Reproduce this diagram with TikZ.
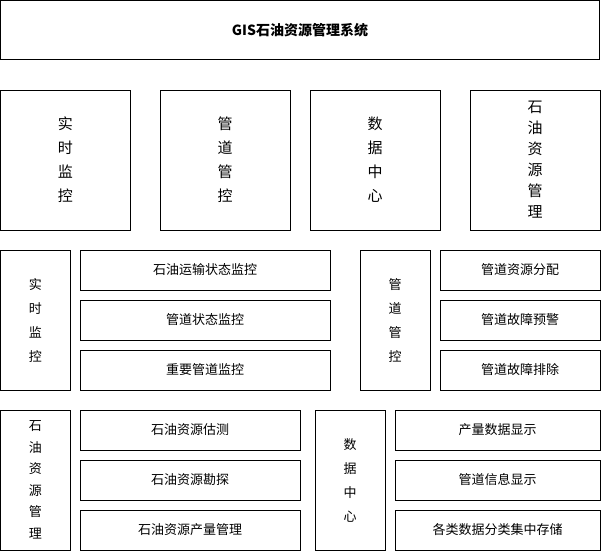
\documentclass[tikz,border=0pt]{standalone}
\usepackage{fontspec}
\setmainfont{Noto Sans CJK SC}
\begin{document}
\begin{tikzpicture}[x=1pt,y=-1pt,
  bx/.style={draw=black,line width=0.8pt,fill=white,inner sep=0pt,font=\fontsize{13}{24}\selectfont,align=center},
  big/.style={font=\fontsize{15}{24}\selectfont},
  bigs/.style={font=\fontsize{15}{21}\selectfont},
  smls/.style={font=\fontsize{13}{21.5}\selectfont}]
\useasboundingbox (0,0) rectangle (601,551);
\newcommand\bxx[7][]{\node[bx,#1,minimum width={#4-#2},minimum height={#5-#3}] (#6) at ({(#2+#4)/2},{(#3+#5)/2}) {#7};}
\node[bx,minimum width=599,minimum height=59,font=\fontsize{14}{16}\selectfont\bfseries] (title) at (300,30) {GIS石油资源管理系统};
\bxx[big]{0.5}{90}{130}{230}{a1}{实\\时\\监\\控}
\bxx[big]{160}{90}{290}{230}{a2}{管\\道\\管\\控}
\bxx[big]{310}{90}{440}{230}{a3}{数\\据\\中\\心}
\bxx[bigs]{470}{90}{600}{230}{a4}{石\\油\\资\\源\\管\\理}
\bxx{0.5}{250}{70}{390}{b1}{实\\时\\监\\控}
\bxx{80}{250}{330}{290}{b11}{石油运输状态监控}
\bxx{80}{300}{330}{340}{b12}{管道状态监控}
\bxx{80}{350}{330}{390}{b13}{重要管道监控}
\bxx{360}{250}{430}{390}{b2}{管\\道\\管\\控}
\bxx{440}{250}{600}{290}{b21}{管道资源分配}
\bxx{440}{300}{600}{340}{b22}{管道故障预警}
\bxx{440}{350}{600}{390}{b23}{管道故障排除}
\bxx[smls]{0.5}{410}{70}{550}{c1}{石\\油\\资\\源\\管\\理}
\bxx{80}{410}{300}{450}{c11}{石油资源估测}
\bxx{80}{460}{300}{500}{c12}{石油资源勘探}
\bxx{80}{510}{300}{550}{c13}{石油资源产量管理}
\bxx{315}{410}{385}{550}{c2}{数\\据\\中\\心}
\bxx{395}{410}{600}{450}{c21}{产量数据显示}
\bxx{395}{460}{600}{500}{c22}{管道信息显示}
\bxx{395}{510}{600}{550}{c23}{各类数据分类集中存储}
\end{tikzpicture}
\end{document}
